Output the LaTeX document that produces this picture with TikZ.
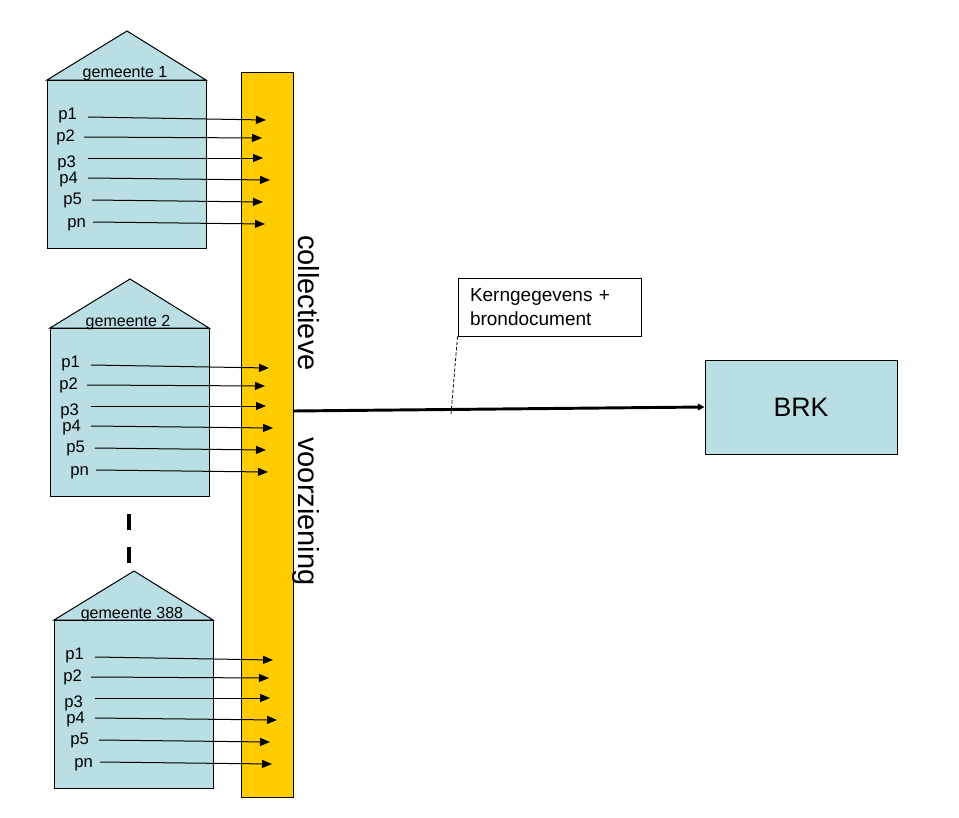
\documentclass[tikz,border=0pt]{standalone}
\usepackage{fontspec}
\setmainfont{Liberation Sans}
\usetikzlibrary{arrows.meta}
\definecolor{hblue}{RGB}{185,222,227}
\definecolor{barcol}{RGB}{255,204,0}
\begin{document}
\begin{tikzpicture}[x=0.75pt,y=-0.75pt,
  housepart/.style={draw=black, fill=hblue, line width=0.75pt},
  glabel/.style={inner sep=0pt, anchor=base, font=\fontsize{12}{14}\selectfont},
  plabel/.style={inner sep=0pt, anchor=base west, font=\fontsize{12.5}{15}\selectfont},
  parrow/.style={draw=black, line width=0.75pt, -{Triangle[length=7.5pt,width=6pt]}},
  mainarrow/.style={draw=black, line width=2.2pt, -{Triangle[length=5pt,width=5pt]}},
  vtext/.style={rotate=-90, anchor=base west, inner sep=0pt, font=\fontsize{21.75}{26}\selectfont}]
\useasboundingbox (0,0) rectangle (959,817);
% collective bar
\draw[draw=black, fill=barcol, line width=0.75pt] (241,73) rectangle (293,797);
\coordinate (barout) at (293,411);
\node[vtext] (tcol) at (298,235) {collectieve};
\node[vtext] (tvoor) at (298,437) {voorziening};
% houses
\foreach \n/\dx/\dy/\gname in {1/0/0/gemeente 1, 2/3/248/gemeente 2, 3/7/540/gemeente 388}{
  \begin{scope}[shift={(\dx,\dy)}]
    \draw[housepart] (47,80) -- (127,31) -- (206,80) -- cycle;
    \draw[housepart] (47,80) rectangle (206,248);
    \node[glabel] (g\n) at (125,78) {\gname};
    \foreach \p/\lx/\ly/\sx/\sy/\ex/\ey in {
        p1/58/119/88/117/266/120,
        p2/56/141/84/137/262/138,
        p3/57/167/88/158/263/158,
        p4/59/183/88/178/270/180,
        p5/63/204/92/200/263/202,
        pn/67/227/93/222/265/224}{
      \node[plabel] (h\n\p) at (\lx,\ly) {\p};
      \coordinate (h\n s\p) at (\sx,\sy);
      \coordinate (h\n e\p) at (\ex,\ey);
      \draw[parrow] (h\n s\p) -- (h\n e\p);
    }
  \end{scope}
}
% dashes between house 2 and 3
\draw[line width=3pt] (129,514) -- (129,530);
\draw[line width=3pt] (129,547) -- (129,563);
% BRK
\node[draw=black, fill=hblue, line width=0.75pt, minimum width=144pt, minimum height=70.5pt,
      inner sep=0pt, font=\fontsize{20}{24}\selectfont] (brk) at (801,407) {BRK};
\draw[mainarrow] (barout) -- (brk.west);
% callout
\node[draw=black, line width=0.75pt, fill=white, minimum width=137.25pt, minimum height=43.5pt,
      inner xsep=9pt, inner ysep=0pt, text width=119.25pt, align=left,
      font=\fontsize{14.25}{18}\selectfont] (call) at (549.5,307) {Kerngegevens +\\brondocument};
\coordinate (lead) at (451,414);
\draw[line width=0.6pt, dash pattern=on 2.5pt off 1.5pt] (call.south west) -- (lead);
\end{tikzpicture}
\end{document}
